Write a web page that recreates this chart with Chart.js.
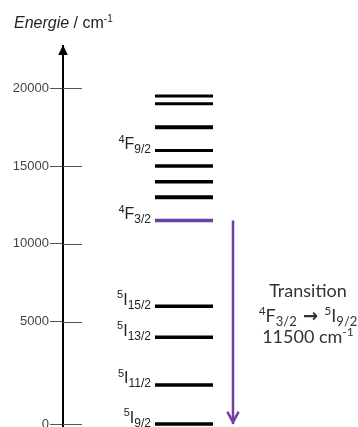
<!DOCTYPE html>
<html>
<head>
<meta charset="utf-8">
<script src="https://cdn.jsdelivr.net/npm/chart.js@4.4.1/dist/chart.umd.min.js"></script>
<style>
  html, body { margin: 0; padding: 0; background: #fff; overflow: hidden; }
  canvas { display: block; }
</style>
</head>
<body>
<canvas id="chart" width="358" height="427"></canvas>
<script>
// Energy levels (cm-1)
const upperLevels = [19500, 19000, 17500, 16000, 15000, 14000, 13000];
const emittingLevel = [11500];
const lowerLevels = [6000, 4000, 1800, 0];
const transition = [11500, 0];

// Term labels
const labelEnergies = [16000, 11500, 6000, 4000, 1800, 0];
const labelSup = ['4', '4', '5', '5', '5', '5'];
const labelTerm = ['F', 'F', 'I', 'I', 'I', 'I'];
const labelSub = ['9/2', '3/2', '15/2', '13/2', '11/2', '9/2'];

const yTicks = [0, 5000, 10000, 15000, 20000];

// styles
const purple = '#7040a0';
const upperWidths = [3, 3, 4, 3, 3.5, 3.5, 4];
const LEVEL_X = 1, ARROW_X = 2, TEXT_X = 3.53;

// the schematic keeps a linear axis above 4000 but stretches the bottom part
const BREAK = 4000, STRETCH = 1.394;
const stretch = v => v >= BREAK ? v : BREAK - (BREAK - v) * STRETCH;
const unstretch = v => v >= BREAK ? v : BREAK - (BREAK - v) / STRETCH;

class StretchScale extends Chart.LinearScale {
  getPixelForValue(value) {
    return super.getPixelForValue(value === null ? null : stretch(value));
  }
  getValueForPixel(pixel) {
    return unstretch(super.getValueForPixel(pixel));
  }
}
StretchScale.id = 'stretch';
StretchScale.defaults = Chart.LinearScale.defaults;
Chart.register(StretchScale);

// draw a run of text parts [{t, font, dy}]
function drawRich(ctx, parts, x, y, align) {
  let total = 0;
  parts.forEach(p => { ctx.font = p.font; total += ctx.measureText(p.t).width; });
  let cx = align === 'right' ? x - total : align === 'center' ? x - total / 2 : x;
  ctx.textAlign = 'left';
  ctx.textBaseline = 'alphabetic';
  parts.forEach(p => {
    ctx.font = p.font;
    ctx.fillText(p.t, cx, y + (p.dy || 0));
    cx += ctx.measureText(p.t).width;
  });
}

const decorations = {
  id: 'decorations',
  afterDraw(chart) {
    const ctx = chart.ctx;
    const xs = chart.scales.x, ys = chart.scales.y;
    const area = chart.chartArea;
    const ax = area.left;
    ctx.save();

    // right half of the axis ticks
    ctx.strokeStyle = '#555';
    ctx.lineWidth = 1;
    yTicks.forEach(v => {
      const py = Math.round(ys.getPixelForValue(v)) + 0.5;
      ctx.beginPath();
      ctx.moveTo(ax, py);
      ctx.lineTo(ax + 19, py);
      ctx.stroke();
    });

    // axis arrow head
    ctx.fillStyle = '#000';
    ctx.beginPath();
    ctx.moveTo(ax, area.top - 1);
    ctx.lineTo(ax - 4.8, area.top + 9);
    ctx.lineTo(ax + 4.8, area.top + 9);
    ctx.closePath();
    ctx.fill();

    // axis title
    ctx.fillStyle = '#222';
    drawRich(ctx, [
      { t: 'Energie', font: 'italic 16px "Liberation Sans"' },
      { t: ' / cm', font: '16px "Liberation Sans"' },
      { t: '-1', font: '10px "Liberation Sans"', dy: -6 }
    ], 14, 28, 'left');

    // term labels
    const lx = xs.getPixelForValue(LEVEL_X) - 29 - 4;
    labelEnergies.forEach((e, i) => {
      const py = ys.getPixelForValue(e);
      drawRich(ctx, [
        { t: labelSup[i], font: '11px "Liberation Sans"', dy: -6.5 },
        { t: labelTerm[i], font: '16px "Liberation Sans"' },
        { t: labelSub[i], font: '12px "Liberation Sans"', dy: 4 }
      ], lx, py - 1.5, 'right');
    });

    // transition arrow head
    const tx = xs.getPixelForValue(ARROW_X);
    const tip = ys.getPixelForValue(transition[1]) - 2;
    ctx.strokeStyle = purple;
    ctx.lineWidth = 2.5;
    ctx.lineCap = 'round';
    ctx.beginPath();
    ctx.moveTo(tx - 5.2, tip - 9.5);
    ctx.lineTo(tx, tip);
    ctx.lineTo(tx + 5.2, tip - 9.5);
    ctx.stroke();

    // transition text
    const cx = xs.getPixelForValue(TEXT_X);
    ctx.fillStyle = '#333';
    drawRich(ctx, [{ t: 'Transition', font: '18px Lato' }], cx, 297, 'center');
    drawRich(ctx, [
      { t: '4', font: '12px Lato', dy: -7 },
      { t: 'F', font: '18px Lato' },
      { t: '3/2', font: '13px Lato', dy: 4 },
      { t: ' \u2192 ', font: 'bold 18px "DejaVu Sans"' },
      { t: '5', font: '12px Lato', dy: -7 },
      { t: 'I', font: '18px Lato' },
      { t: '9/2', font: '13px Lato', dy: 4 }
    ], cx, 322, 'center');
    drawRich(ctx, [
      { t: '11500 cm', font: '18px Lato' },
      { t: '-1', font: '12px Lato', dy: -7 }
    ], cx, 343, 'center');

    ctx.restore();
  }
};

const levelPoint = e => ({ x: LEVEL_X, y: e });

new Chart(document.getElementById('chart'), {
  type: 'scatter',
  data: {
    datasets: [
      {
        data: upperLevels.map(levelPoint),
        pointStyle: 'line',
        pointRadius: 29,
        pointBorderWidth: upperWidths,
        borderColor: '#000',
        backgroundColor: '#000'
      },
      {
        data: emittingLevel.map(levelPoint),
        pointStyle: 'line',
        pointRadius: 29,
        pointBorderWidth: 3.5,
        borderColor: purple,
        backgroundColor: purple
      },
      {
        data: lowerLevels.map(levelPoint),
        pointStyle: 'line',
        pointRadius: 29,
        pointBorderWidth: 3.5,
        borderColor: '#000',
        backgroundColor: '#000'
      },
      {
        type: 'line',
        data: transition.map(e => ({ x: ARROW_X, y: e })),
        borderColor: purple,
        borderWidth: 2.5,
        pointRadius: 0,
        showLine: true
      }
    ]
  },
  options: {
    responsive: false,
    animation: false,
    layout: {
      autoPadding: false,
      padding: { top: 46, right: 0, bottom: 0, left: 0 }
    },
    plugins: {
      legend: { display: false },
      tooltip: { enabled: false }
    },
    events: [],
    clip: false,
    scales: {
      x: {
        type: 'linear',
        display: false,
        min: -1.469,
        max: 4.551
      },
      y: {
        type: 'stretch',
        min: -1767,
        max: 22718,
        afterBuildTicks: scale => {
          scale.ticks = yTicks.map(v => ({ value: v }));
        },
        afterFit: scale => {
          scale.width = 63;
          scale.paddingTop = 0;
          scale.paddingBottom = 0;
        },
        border: { display: true, color: '#000', width: 2 },
        grid: {
          drawOnChartArea: false,
          drawTicks: true,
          tickLength: 13,
          color: '#555'
        },
        ticks: {
          autoSkip: false,
          padding: 1,
          color: '#444',
          font: { family: 'Liberation Sans', size: 13 },
          callback: v => String(v)
        }
      }
    }
  },
  plugins: [decorations]
});
</script>
</body>
</html>
